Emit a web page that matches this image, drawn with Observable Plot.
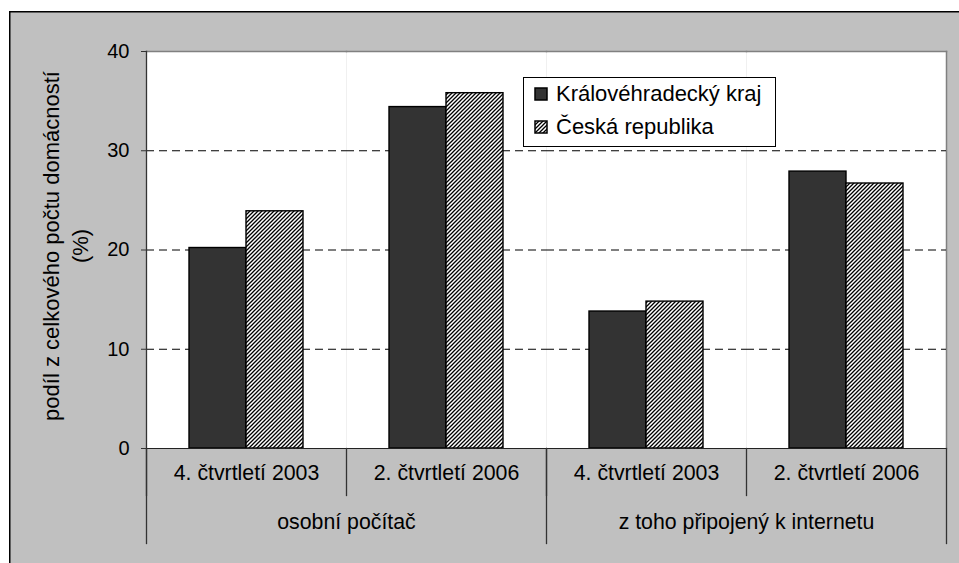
<!DOCTYPE html>
<html>
<head>
<meta charset="utf-8">
<script src="https://cdn.jsdelivr.net/npm/d3@7"></script>
<script src="https://cdn.jsdelivr.net/npm/@observablehq/plot@0.6"></script>
<style>
  html, body { margin: 0; padding: 0; background: #ffffff; }
  #wrap { position: relative; width: 959px; height: 563px; overflow: hidden; }
  .layer { position: absolute; left: 0; top: 0; }
  #chart svg { background: transparent !important; }
  #legendbox { position: absolute; left: 523px; top: 77px; width: 253px; height: 70px; box-sizing: border-box; padding: 0 0 0 12px; }
  #legendbox .lg-swatches { font-family: "Liberation Sans", Arial, sans-serif !important; font-size: 22px !important; margin: 0 !important; color: #000; background: transparent !important; }
  #legendbox .lg-swatch { height: 33px; padding: 0 !important; margin: 0 !important; display: flex; align-items: center; }
  #legendbox .lg-swatch svg { margin-right: 9px !important; overflow: visible; }
  #legendbox .lg-swatch svg rect { stroke: #000; stroke-width: 1.5px; }
</style>
</head>
<body>
<svg width="0" height="0" style="position:absolute">
  <defs>
    <pattern id="hatch" patternUnits="userSpaceOnUse" width="4" height="4">
      <rect width="4" height="4" fill="#ffffff"/>
      <path d="M-1,1 l2,-2 M0,4 l4,-4 M3,5 l2,-2" stroke="#000" stroke-width="1.3"/>
    </pattern>
  </defs>
</svg>
<div id="wrap">
  <svg class="layer" width="959" height="563">
    <rect x="0" y="0" width="959" height="563" fill="#ffffff"/>
    <rect x="9.75" y="11.75" width="960" height="560" fill="#c0c0c0" stroke="#000" stroke-width="1.5"/>
  </svg>
  <div id="chart" class="layer"></div>
  <svg class="layer" style="left:523px;top:77px" width="253" height="70">
    <rect x="0.5" y="0.5" width="252" height="69" fill="#ffffff" stroke="#000" stroke-width="1"/>
  </svg>
  <div id="legendbox"></div>
</div>
<script>
const groups = ["osobní počítač", "z toho připojený k internetu"];
const periods = ["4. čtvrtletí 2003", "2. čtvrtletí 2006"];
const series = ["Královéhradecký kraj", "Česká republika"];
const krajValues = [20.2, 34.4, 13.8, 27.9];
const crValues = [23.9, 35.8, 14.8, 26.7];
const yTicks = [0, 10, 20, 30, 40];
const gridTicks = [10, 20, 30];
const yLabel = "podíl z celkového počtu domácností\n(%)";
const colors = ["#333333", "url(#hatch)"];

const cats = groups.flatMap(g => periods.map(p => ({key: g + " | " + p, group: g, period: p})));
const keys = cats.map(c => c.key);
const data = cats.flatMap((c, i) => [
  {key: c.key, series: series[0], value: krajValues[i]},
  {key: c.key, series: series[1], value: crValues[i]}
]);
const outer = groups.map(g => ({group: g, key: cats.find(c => c.group === g).key}));

const font = "'Liberation Sans', Arial, sans-serif";

const chart = Plot.plot({
  width: 959,
  height: 563,
  marginLeft: 145,
  marginRight: 13,
  marginTop: 51,
  marginBottom: 115,
  style: {fontFamily: font, fontSize: "20px", color: "#000", background: "transparent", overflow: "visible"},
  fx: {domain: keys, padding: 0, axis: null},
  x: {domain: series, paddingInner: 0, paddingOuter: 0.74, axis: null},
  y: {domain: [0, 40], axis: null},
  color: {domain: series, range: colors},
  marks: [
    Plot.frame({fill: "#ffffff"}),
    Plot.frame({anchor: "top", stroke: "#808080", strokeWidth: 1.5}),
    Plot.frame({anchor: "right", stroke: "#808080", strokeWidth: 1.5, facetAnchor: "right"}),
    Plot.gridY(gridTicks, {stroke: "#000", strokeOpacity: 1, strokeWidth: 1, strokeDasharray: "8,5"}),
    Plot.barY(data, {fx: "key", x: "series", y: "value", fill: "series", stroke: "#000", strokeWidth: 1.4}),
    Plot.ruleY([0], {stroke: "#222", strokeWidth: 1.2}),
    Plot.frame({anchor: "left", stroke: "#333", strokeWidth: 1.3, facetAnchor: "left"}),
    Plot.axisY({ticks: yTicks, tickSize: 5, tickPadding: 12, label: null, stroke: "#333", fontSize: 20}),
    // separators below the axis
    Plot.frame({anchor: "left", stroke: "#333", strokeWidth: 1.3, insetTop: 397, insetBottom: -47}),
    Plot.frame({anchor: "left", stroke: "#333", strokeWidth: 1.3, insetTop: 397, insetBottom: -95, fx: keys[0]}),
    Plot.frame({anchor: "left", stroke: "#333", strokeWidth: 1.3, insetTop: 397, insetBottom: -95, fx: keys[2]}),
    Plot.frame({anchor: "right", stroke: "#333", strokeWidth: 1.3, insetTop: 397, insetBottom: -95, fx: keys[3]}),
    Plot.text(cats, {fx: "key", text: "period", frameAnchor: "bottom", dy: 31, fill: "#000", fontSize: 21.3}),
    Plot.text(outer, {fx: "key", text: "group", frameAnchor: "bottom-right", textAnchor: "middle", dy: 80, fill: "#000", fontSize: 21.3}),
    Plot.text([yLabel], {text: d => d, facetAnchor: "left", frameAnchor: "left", textAnchor: "middle", rotate: -90, dx: -82, dy: -4, lineHeight: 1.3, fill: "#000", fontSize: 22})
  ]
});
document.getElementById("chart").appendChild(chart);

const legend = Plot.legend({
  color: {domain: series, range: colors},
  swatchSize: 12,
  columns: 1,
  className: "lg",
  style: {fontFamily: font, fontSize: "22px", color: "#000", background: "transparent"}
});
document.getElementById("legendbox").appendChild(legend);
</script>
</body>
</html>
